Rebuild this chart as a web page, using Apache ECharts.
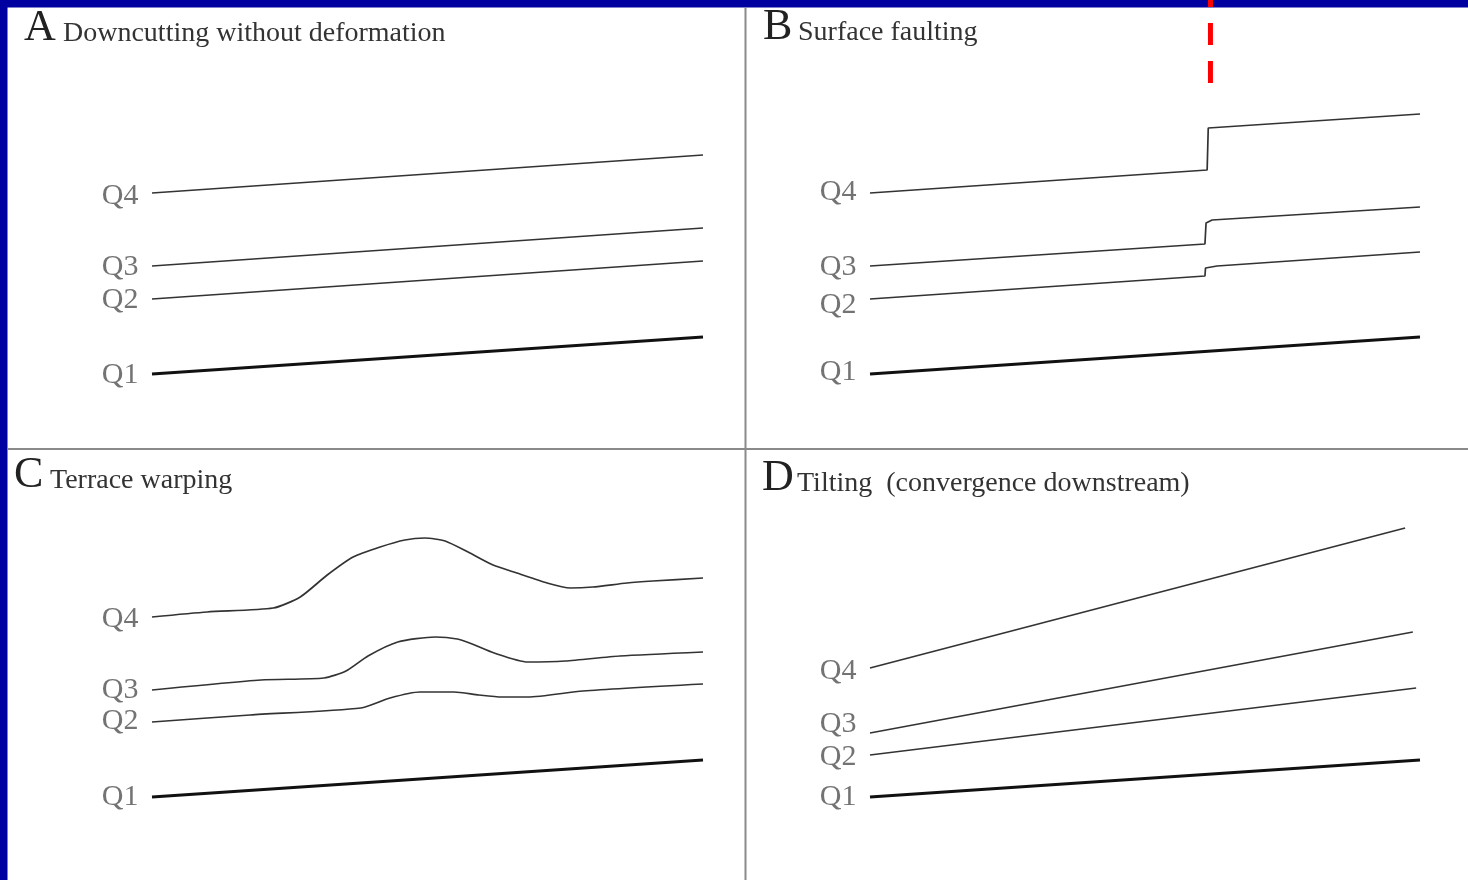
<!DOCTYPE html>
<html>
<head>
<meta charset="utf-8">
<script src="https://cdn.jsdelivr.net/npm/echarts@6/dist/echarts.min.js"></script>
<style>
html,body{margin:0;padding:0;background:#fff;}
#chart{width:1468px;height:880px;}
</style>
</head>
<body>
<div id="chart"></div>
<script>
// ---- Data (x: distance along valley 0..10, y: elevation units) ----
const terraceNames = ['Q4', 'Q3', 'Q2', 'Q1'];
const panelLetters = ['A', 'B', 'C', 'D'];
const panelTitles = ['Downcutting without deformation', 'Surface faulting', 'Terrace warping', 'Tilting  (convergence downstream)'];

// Panel A: downcutting without deformation
const aQ4 = [[0, 20.7], [10, 24.5]];
const aQ3 = [[0, 13.4], [10, 17.2]];
const aQ2 = [[0, 10.1], [10, 13.9]];
const aQ1 = [[0, 2.6], [10, 6.3]];
const aLabelY = [20.4, 13.3, 10.0, 2.5];

// Panel B: surface faulting
const bQ4 = [[0, 20.7], [6.13, 23.0], [6.15, 27.2], [10, 28.6]];
const bQ3 = [[0, 13.4], [6.09, 15.6], [6.11, 17.7], [6.22, 18.0], [10, 19.3]];
const bQ2 = [[0, 10.1], [6.09, 12.4], [6.10, 13.2], [6.31, 13.4], [10, 14.8]];
const bQ1 = [[0, 2.6], [10, 6.3]];
const bLabelY = [20.8, 13.3, 9.5, 2.8];
const faultX = 6.19;
const faultY = [31.7, 40];

// Panel C: terrace warping
const cQ4 = [[0, 20.7], [1.0, 21.2], [2.2, 21.6], [2.69, 22.7], [3.18, 24.9], [3.65, 26.7], [4.14, 27.7], [4.59, 28.4], [4.95, 28.6], [5.32, 28.3], [5.77, 27.1], [6.19, 25.9], [6.62, 25.1], [7.17, 24.1], [7.59, 23.6], [8.0, 23.7], [8.62, 24.1], [9.09, 24.3], [10, 24.6]];
const cQ3 = [[0, 13.4], [1.98, 14.4], [3.12, 14.6], [3.52, 15.3], [3.92, 16.8], [4.46, 18.2], [5.14, 18.7], [5.54, 18.5], [5.81, 18.0], [6.21, 17.1], [6.82, 16.2], [7.5, 16.3], [8.49, 16.8], [10, 17.2]];
const cQ2 = [[0, 10.2], [1.78, 10.9], [3.79, 11.6], [4.32, 12.6], [4.86, 13.2], [5.48, 13.2], [5.93, 12.9], [6.35, 12.7], [6.82, 12.7], [7.82, 13.3], [10, 14.0]];
const cQ1 = [[0, 2.7], [10, 6.4]];
const cLabelY = [20.5, 13.4, 10.3, 2.7];

// Panel D: tilting (convergence downstream)
const dQ4 = [[0, 15.6], [9.73, 29.6]];
const dQ3 = [[0, 9.1], [9.87, 19.2]];
const dQ2 = [[0, 6.9], [9.93, 13.6]];
const dQ1 = [[0, 2.7], [10, 6.4]];
const dLabelY = [15.3, 10.0, 6.7, 2.7];

// ---- Build chart ----
const FONT = '"Liberation Serif", "DejaVu Serif", serif';
const panels = [
  { lines: [aQ4, aQ3, aQ2, aQ1], labels: aLabelY, smooth: false },
  { lines: [bQ4, bQ3, bQ2, bQ1], labels: bLabelY, smooth: false },
  { lines: [cQ4, cQ3, cQ2, cQ1], labels: cLabelY, smooth: 0.22 },
  { lines: [dQ4, dQ3, dQ2, dQ1], labels: dLabelY, smooth: false }
];

const grids = [
  { left: 152, top: 0, width: 551, height: 400 },
  { left: 870, top: 0, width: 550, height: 400 },
  { left: 152, top: 424, width: 551, height: 400 },
  { left: 870, top: 424, width: 550, height: 400 }
];
const xAxes = grids.map((g, i) => ({ type: 'value', gridIndex: i, min: 0, max: 10, show: false }));
const yAxes = grids.map((g, i) => ({ type: 'value', gridIndex: i, min: 0, max: 40, show: false }));

const series = [];
panels.forEach((p, i) => {
  p.lines.forEach((pts, k) => {
    const isQ1 = k === 3;
    series.push({
      type: 'line', name: panelLetters[i] + terraceNames[k],
      xAxisIndex: i, yAxisIndex: i,
      data: pts, showSymbol: false, symbol: 'none',
      smooth: isQ1 ? false : p.smooth,
      lineStyle: { color: isQ1 ? '#111' : '#333', width: isQ1 ? 3 : 1.7 },
      silent: true, animation: false, z: 3
    });
  });
  series.push({
    type: 'scatter', xAxisIndex: i, yAxisIndex: i,
    data: p.labels.map((y, k) => [0, y, terraceNames[k]]),
    symbolSize: 1, itemStyle: { color: 'rgba(0,0,0,0)' },
    label: {
      show: true, position: 'left', distance: 13,
      formatter: (d) => d.value[2],
      fontFamily: FONT, fontSize: 30, color: '#505050'
    },
    silent: true, animation: false, z: 3
  });
});
// red dashed fault trace in panel B
series.push({
  type: 'line', xAxisIndex: 1, yAxisIndex: 1,
  data: faultY.map(y => [faultX, y]), showSymbol: false, symbol: 'none',
  lineStyle: { color: '#ff0000', width: 5, type: [22, 16] },
  silent: true, animation: false, z: 10
});

const titlePos = [
  { lx: 24, tx: 63, base: 43 },
  { lx: 763, tx: 798, base: 42 },
  { lx: 14, tx: 50, base: 490 },
  { lx: 762, tx: 797, base: 493 }
];
const graphics = [
  // blue frame
  { type: 'rect', shape: { x: 0, y: 0, width: 1468, height: 7.5 }, style: { fill: '#0000a0' }, z: 0 },
  { type: 'rect', shape: { x: 0, y: 0, width: 7.5, height: 880 }, style: { fill: '#0000a0' }, z: 0 },
  // panel dividers
  { type: 'line', shape: { x1: 745.5, y1: 7.5, x2: 745.5, y2: 880 }, style: { stroke: '#8a8a8a', lineWidth: 2 }, z: 0 },
  { type: 'line', shape: { x1: 7.5, y1: 449, x2: 1468, y2: 449 }, style: { stroke: '#8a8a8a', lineWidth: 2 }, z: 0 }
];
titlePos.forEach((t, i) => {
  graphics.push({
    type: 'text', x: t.lx, y: t.base - 14.5,
    style: { text: panelLetters[i], font: '44px ' + FONT, fill: '#222', verticalAlign: 'middle', align: 'left' }, z: 1
  });
  graphics.push({
    type: 'text', x: t.tx, y: t.base - 9.3,
    style: { text: panelTitles[i], font: '28px ' + FONT, fill: '#333', verticalAlign: 'middle', align: 'left' }, z: 1
  });
});

const chart = echarts.init(document.getElementById('chart'), null, { renderer: 'canvas' });
chart.setOption({
  backgroundColor: '#ffffff',
  animation: false,
  grid: grids,
  xAxis: xAxes,
  yAxis: yAxes,
  series: series,
  graphic: graphics
});
</script>
</body>
</html>
